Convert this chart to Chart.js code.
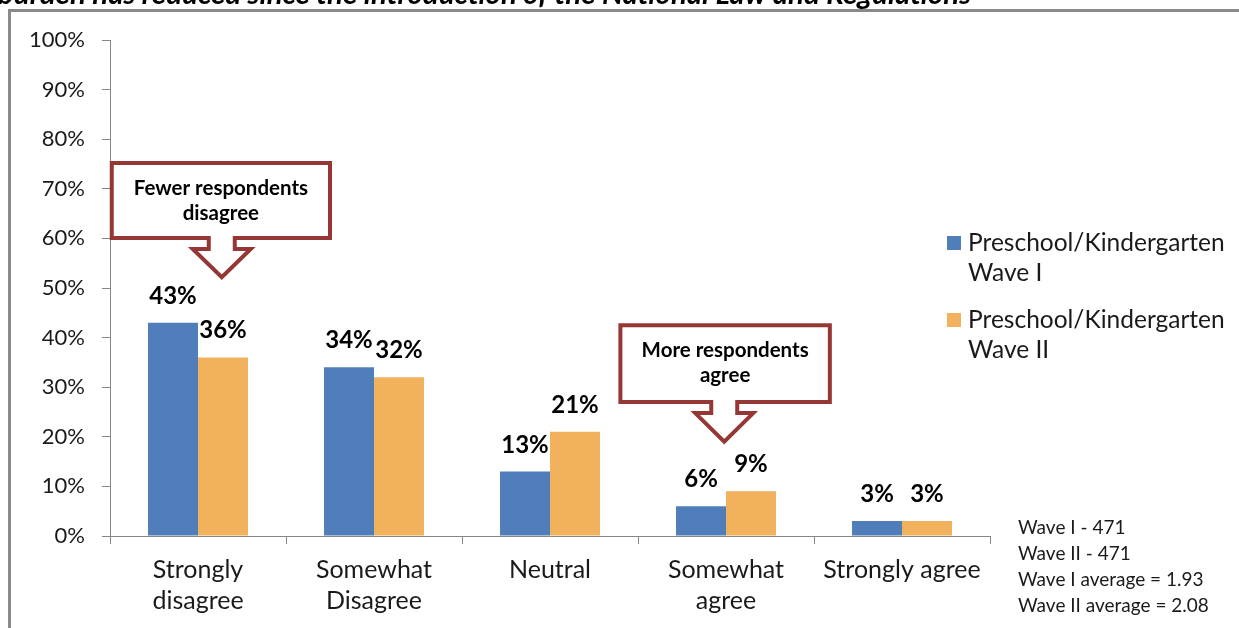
<!DOCTYPE html>
<html>
<head>
<meta charset="utf-8">
<script src="https://cdn.jsdelivr.net/npm/chart.js@4.4.1/dist/chart.umd.min.js"></script>
<style>
  html, body { margin: 0; padding: 0; background: #fff; overflow: hidden; }
  #wrap { position: absolute; left: 0; top: 0; width: 1239px; height: 628px; }
</style>
</head>
<body>
<div id="wrap"><canvas id="barChart" width="1239" height="628"></canvas></div>
<script>
// survey answers, percent of respondents
const categories = [
    ['Strongly', 'disagree'],
    ['Somewhat', 'Disagree'],
    ['Neutral'],
    ['Somewhat', 'agree'],
    ['Strongly agree']
];
const waveOne = [43, 34, 13, 6, 3];
const waveTwo = [36, 32, 21, 9, 3];
const seriesNames = [
    ['Preschool/Kindergarten', 'Wave I'],
    ['Preschool/Kindergarten', 'Wave II']
];
const yTicks = [0, 10, 20, 30, 40, 50, 60, 70, 80, 90, 100];
const notes = ['Wave I - 471', 'Wave II - 471', 'Wave I average = 1.93', 'Wave II average = 2.08'];
const titleText = 'burden has reduced since the introduction of the National Law and Regulations';

const FONT = 'Lato, "Noto Sans", sans-serif';
const AXIS_GREY = '#868686';
const CALLOUT_RED = '#953735';

// callout boxes: x in category units, y in axis percent
const callouts = [
    { lines: ['Fewer respondents', 'disagree'], x0: -0.49, x1: 0.75, yTop: 75.2, yBottom: 60.1, tipX: 0.135, tipY: 52.2 },
    { lines: ['More respondents', 'agree'], x0: 2.40, x1: 3.59, yTop: 42.5, yBottom: 27.0, tipX: 2.99, tipY: 19.0 }
];

const framePlugin = {
    id: 'frame',
    beforeDraw(chart) {
        const ctx = chart.ctx;
        ctx.save();
        ctx.fillStyle = '#fff';
        ctx.fillRect(0, 0, chart.width, chart.height);
        ctx.strokeStyle = '#8a8a8a';
        ctx.lineWidth = 3;
        ctx.beginPath();
        ctx.moveTo(9.5, chart.height + 5);
        ctx.lineTo(9.5, 10.5);
        ctx.lineTo(chart.width + 5, 10.5);
        ctx.stroke();

        ctx.fillStyle = '#000';
        ctx.font = 'italic bold 29.4px ' + FONT;
        ctx.textBaseline = 'alphabetic';
        ctx.textAlign = 'left';
        ctx.fillText(titleText, -2, 4);
        ctx.restore();
    }
};

const valueLabels = {
    id: 'valueLabels',
    afterDatasetsDraw(chart) {
        const ctx = chart.ctx;
        ctx.save();
        ctx.font = 'bold 24px ' + FONT;
        ctx.fillStyle = '#000';
        ctx.textAlign = 'center';
        ctx.textBaseline = 'alphabetic';
        chart.data.datasets.forEach((ds, i) => {
            chart.getDatasetMeta(i).data.forEach((bar, j) => {
                ctx.fillText(ds.data[j] + '%', bar.x, bar.y - 19);
            });
        });
        ctx.restore();
    }
};

const sideLegend = {
    id: 'sideLegend',
    afterDraw(chart) {
        const ctx = chart.ctx;
        ctx.save();
        ctx.font = '24.5px ' + FONT;
        ctx.textAlign = 'left';
        ctx.textBaseline = 'middle';
        chart.data.datasets.forEach((ds, i) => {
            const top = 243 + i * 77;
            ctx.fillStyle = ds.backgroundColor;
            ctx.fillRect(947, top - 7, 14, 14);
            ctx.fillStyle = '#1a1a1a';
            seriesNames[i].forEach((line, k) => ctx.fillText(line, 968, top + k * 30));
        });

        ctx.font = '19px ' + FONT;
        notes.forEach((line, k) => ctx.fillText(line, 1018, 528 + k * 26));
        ctx.restore();
    }
};

const calloutPlugin = {
    id: 'callouts',
    afterDraw(chart) {
        const ctx = chart.ctx;
        const xs = chart.scales.x, ys = chart.scales.y;
        const step = xs.getPixelForValue(1) - xs.getPixelForValue(0);
        const px = v => xs.getPixelForValue(0) + v * step;
        callouts.forEach(c => {
            const x0 = px(c.x0), x1 = px(c.x1);
            const y0 = ys.getPixelForValue(c.yTop), y1 = ys.getPixelForValue(c.yBottom);
            const tx = px(c.tipX), ty = ys.getPixelForValue(c.tipY);
            const shaft = 13, head = 29, headTop = y1 + 11;
            ctx.save();
            ctx.beginPath();
            ctx.moveTo(x0, y0);
            ctx.lineTo(x1, y0);
            ctx.lineTo(x1, y1);
            ctx.lineTo(tx + shaft, y1);
            ctx.lineTo(tx + shaft, headTop);
            ctx.lineTo(tx + head, headTop);
            ctx.lineTo(tx, ty);
            ctx.lineTo(tx - head, headTop);
            ctx.lineTo(tx - shaft, headTop);
            ctx.lineTo(tx - shaft, y1);
            ctx.lineTo(x0, y1);
            ctx.closePath();
            ctx.fillStyle = '#fff';
            ctx.fill();
            ctx.lineWidth = 4;
            ctx.lineJoin = 'miter';
            ctx.strokeStyle = CALLOUT_RED;
            ctx.stroke();

            ctx.fillStyle = '#000';
            ctx.font = 'bold 20.5px ' + FONT;
            ctx.textAlign = 'center';
            ctx.textBaseline = 'middle';
            c.lines.forEach((line, k) => ctx.fillText(line, (x0 + x1) / 2, y0 + 25 + k * 25));
            ctx.restore();
        });
    }
};

new Chart(document.getElementById('barChart').getContext('2d'), {
    type: 'bar',
    data: {
        labels: categories,
        datasets: [{
            label: seriesNames[0].join(' '),
            data: waveOne,
            backgroundColor: '#4F7EBA',
            borderWidth: 0
        }, {
            label: seriesNames[1].join(' '),
            data: waveTwo,
            backgroundColor: '#F2B15C',
            borderWidth: 0
        }]
    },
    options: {
        responsive: false,
        animation: false,
        events: [],
        layout: {
            padding: { left: 10, right: 249, top: 40, bottom: 0 }
        },
        datasets: {
            bar: { categoryPercentage: 0.568, barPercentage: 1 }
        },
        plugins: {
            legend: { display: false },
            tooltip: { enabled: false }
        },
        scales: {
            x: {
                afterFit(scale) { scale.height = 92; },
                border: { display: true, color: AXIS_GREY, width: 1 },
                grid: { display: true, drawOnChartArea: false, drawTicks: true, tickLength: 8, color: AXIS_GREY, offset: true },
                ticks: {
                    color: '#1a1a1a',
                    padding: 10,
                    maxRotation: 0,
                    autoSkip: false,
                    font: { family: FONT, size: 25, lineHeight: 1.25 }
                }
            },
            y: {
                min: 0,
                max: 100,
                afterFit(scale) { scale.width = 100; },
                afterBuildTicks(scale) { scale.ticks = yTicks.map(v => ({ value: v })); },
                border: { display: true, color: AXIS_GREY, width: 1 },
                grid: { display: true, drawOnChartArea: false, drawTicks: true, tickLength: 8, color: AXIS_GREY },
                ticks: {
                    color: '#1a1a1a',
                    padding: 17,
                    callback: v => v + '%',
                    font: { family: FONT, size: 22 }
                }
            }
        }
    },
    plugins: [framePlugin, valueLabels, sideLegend, calloutPlugin]
});
</script>
</body>
</html>
